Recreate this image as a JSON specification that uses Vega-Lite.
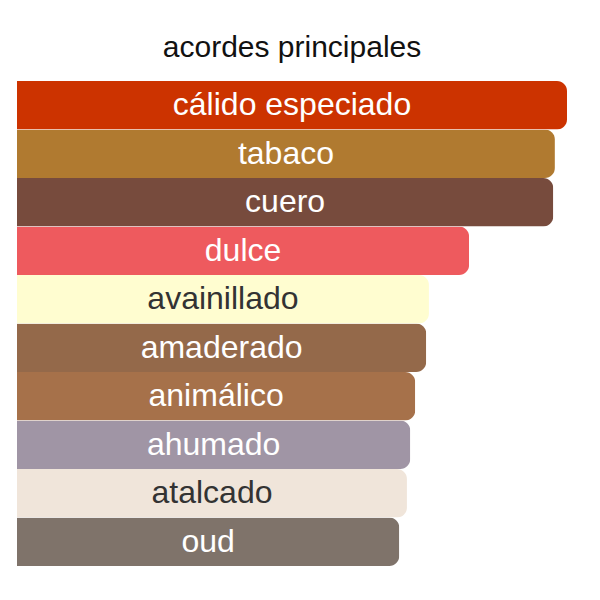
{
  "$schema": "https://vega.github.io/schema/vega-lite/v6.json",
  "autosize": "none",
  "width": 550,
  "height": 485,
  "padding": {"left": 17, "top": 81, "right": 33, "bottom": 34},
  "background": "white",
  "title": {
    "text": "acordes principales",
    "fontSize": 30,
    "fontWeight": "normal",
    "font": "Liberation Sans",
    "color": "#111111",
    "anchor": "middle",
    "offset": 18
  },
  "data": {
    "values": [
      {"acorde": "cálido especiado", "valor": 100, "color": "#cc3300"},
      {"acorde": "tabaco", "valor": 97.8, "color": "#b07a30"},
      {"acorde": "cuero", "valor": 97.5, "color": "#774b3d"},
      {"acorde": "dulce", "valor": 82.2, "color": "#ee5a5e"},
      {"acorde": "avainillado", "valor": 74.9, "color": "#fffdd0"},
      {"acorde": "amaderado", "valor": 74.4, "color": "#94694a"},
      {"acorde": "animálico", "valor": 72.4, "color": "#a6714a"},
      {"acorde": "ahumado", "valor": 71.5, "color": "#a095a5"},
      {"acorde": "atalcado", "valor": 70.9, "color": "#f0e5da"},
      {"acorde": "oud", "valor": 69.5, "color": "#7f736a"}
    ]
  },
  "transform": [{"calculate": "datum.valor / 2", "as": "centro"}],
  "encoding": {
    "y": {
      "field": "acorde",
      "type": "nominal",
      "sort": null,
      "axis": null,
      "scale": {"paddingInner": 0, "paddingOuter": 0}
    }
  },
  "layer": [
    {
      "mark": {"type": "bar", "cornerRadiusEnd": 10},
      "encoding": {
        "x": {
          "field": "valor",
          "type": "quantitative",
          "axis": null,
          "scale": {"domain": [0, 100]}
        },
        "color": {"field": "color", "type": "nominal", "scale": null, "legend": null}
      }
    },
    {
      "mark": {"type": "text", "font": "Liberation Sans", "fontSize": 32, "align": "center", "baseline": "middle"},
      "encoding": {
        "x": {"field": "centro", "type": "quantitative"},
        "text": {"field": "acorde"},
        "color": {
          "condition": {"test": "datum.acorde === 'avainillado' || datum.acorde === 'atalcado'", "value": "#333333"},
          "value": "#ffffff"
        }
      }
    }
  ],
  "config": {"view": {"stroke": null}}
}
